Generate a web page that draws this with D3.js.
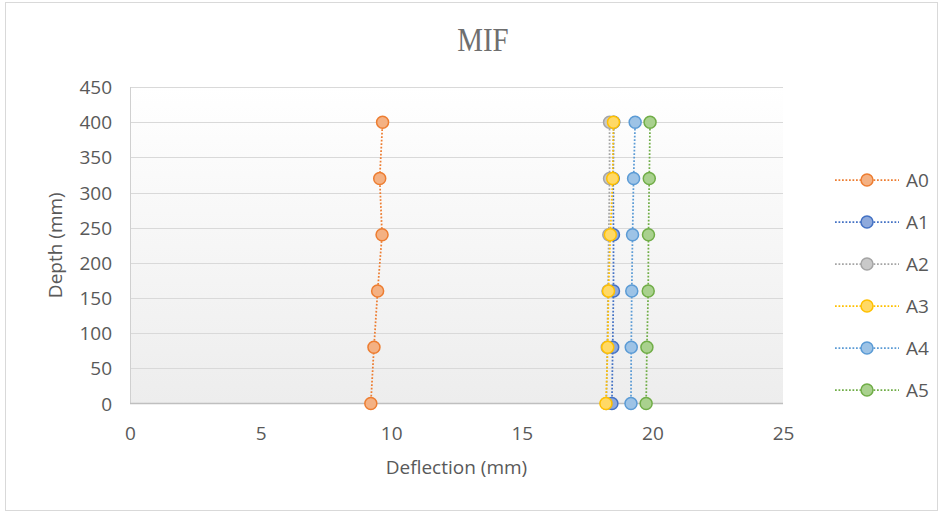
<!DOCTYPE html>
<html>
<head>
<meta charset="utf-8">
<script src="https://cdn.jsdelivr.net/npm/d3@7"></script>
<style>
  html, body { margin: 0; padding: 0; background: #fff; }
  svg { display: block; }
</style>
</head>
<body>
<svg id="chart" width="943" height="512"></svg>
<script>
// Depth readings (mm) and the deflection of each series at those depths
const depths = [0, 80, 160, 240, 320, 400];
const seriesNames = ["A0", "A1", "A2", "A3", "A4", "A5"];
const A0 = [9.22, 9.34, 9.48, 9.65, 9.56, 9.67];
const A1 = [18.45, 18.48, 18.51, 18.51, 18.50, 18.52];
const A2 = [18.24, 18.27, 18.30, 18.33, 18.36, 18.36];
const A3 = [18.22, 18.29, 18.32, 18.39, 18.48, 18.51];
const A4 = [19.18, 19.19, 19.21, 19.24, 19.28, 19.34];
const A5 = [19.76, 19.79, 19.84, 19.85, 19.88, 19.91];
const xTicks = [0, 5, 10, 15, 20, 25];
const yTicks = [0, 50, 100, 150, 200, 250, 300, 350, 400, 450];

const seriesValues = [A0, A1, A2, A3, A4, A5];
const strokeColors = ["#ED7D31", "#4472C4", "#A5A5A5", "#FFC000", "#5B9BD5", "#70AD47"];
const fillColors   = ["#F4B183", "#8FAADC", "#C9C9C9", "#FFD966", "#9DC3E6", "#A9D18E"];

const svg = d3.select("#chart");
const font = "'Open Sans', sans-serif";
const fontSize = 19;
const textColor = "#595959";

// Outer chart frame
svg.append("rect")
  .attr("x", 5.5).attr("y", 2.5)
  .attr("width", 932).attr("height", 508)
  .attr("fill", "#fff").attr("stroke", "#D9D9D9");

const plot = { left: 130, right: 783, top: 87, bottom: 403.5 };
const x = d3.scaleLinear().domain([0, 25]).range([plot.left, plot.right]);
const y = d3.scaleLinear().domain([0, 450]).range([plot.bottom, plot.top]);

// Plot background gradient (white at top, light gray at the bottom)
const defs = svg.append("defs");
const grad = defs.append("linearGradient")
  .attr("id", "plotBg").attr("x1", 0).attr("y1", 0).attr("x2", 0).attr("y2", 1);
grad.append("stop").attr("offset", "0%").attr("stop-color", "#FFFFFF");
grad.append("stop").attr("offset", "100%").attr("stop-color", "#EDEDED");

svg.append("rect")
  .attr("x", plot.left).attr("y", plot.top)
  .attr("width", plot.right - plot.left).attr("height", plot.bottom - plot.top)
  .attr("fill", "url(#plotBg)");

// Horizontal gridlines
svg.append("g")
  .selectAll("line")
  .data(yTicks.filter(d => d > 0))
  .join("line")
  .attr("x1", plot.left).attr("x2", plot.right)
  .attr("y1", d => Math.round(y(d)) + 0.5).attr("y2", d => Math.round(y(d)) + 0.5)
  .attr("stroke", "#D9D9D9").attr("stroke-width", 1);

// Left edge and bottom axis line
svg.append("line")
  .attr("x1", plot.left + 0.5).attr("x2", plot.left + 0.5)
  .attr("y1", plot.top).attr("y2", plot.bottom)
  .attr("stroke", "#D0D0D0");
svg.append("line")
  .attr("x1", plot.left).attr("x2", plot.right)
  .attr("y1", plot.bottom).attr("y2", plot.bottom)
  .attr("stroke", "#BFBFBF").attr("stroke-width", 1.5);

// Axes (labels only)
const xAxis = d3.axisBottom(x).tickValues(xTicks).tickSize(0).tickPadding(0);
const gx = svg.append("g").attr("transform", `translate(0, ${plot.bottom + 30})`).call(xAxis);
gx.select(".domain").remove();
gx.selectAll("text")
  .attr("dy", "0.35em")
  .attr("font-family", font).attr("font-size", fontSize).attr("fill", textColor);

const yAxis = d3.axisLeft(y).tickValues(yTicks).tickSize(0).tickPadding(0);
const gy = svg.append("g").attr("transform", `translate(${plot.left - 18}, 0)`).call(yAxis);
gy.select(".domain").remove();
gy.selectAll("text")
  .attr("dy", "0.35em")
  .attr("font-family", font).attr("font-size", fontSize).attr("fill", textColor);

// Title and axis titles
svg.append("text")
  .attr("x", 483).attr("y", 51)
  .attr("text-anchor", "middle")
  .attr("font-family", "'Liberation Serif', serif").attr("font-size", 34)
  .attr("fill", "#6E6E6E")
  .attr("transform", "translate(483,0) scale(0.85,1) translate(-483,0)")
  .text("MIF");

svg.append("text")
  .attr("x", (plot.left + plot.right) / 2).attr("y", 474)
  .attr("text-anchor", "middle")
  .attr("font-family", font).attr("font-size", fontSize).attr("fill", textColor)
  .text("Deflection (mm)");

svg.append("text")
  .attr("transform", `translate(62, ${(plot.top + plot.bottom) / 2}) rotate(-90)`)
  .attr("text-anchor", "middle")
  .attr("font-family", font).attr("font-size", fontSize).attr("fill", textColor)
  .text("Depth (mm)");

// Series: dotted connecting lines with circular markers
const line = d3.line().x(d => x(d.v)).y(d => y(d.depth));
const series = seriesNames.map((name, i) => ({
  name,
  stroke: strokeColors[i],
  fill: fillColors[i],
  points: depths.map((depth, j) => ({ depth, v: seriesValues[i][j] }))
}));

const gs = svg.append("g");
series.forEach(s => {
  const g = gs.append("g");
  g.append("path")
    .datum(s.points)
    .attr("d", line)
    .attr("fill", "none")
    .attr("stroke", s.stroke)
    .attr("stroke-width", 1.75)
    .attr("stroke-dasharray", "1.75,1.75");
  g.selectAll("circle")
    .data(s.points)
    .join("circle")
    .attr("cx", d => x(d.v)).attr("cy", d => y(d.depth))
    .attr("r", 6)
    .attr("fill", s.fill)
    .attr("stroke", s.stroke)
    .attr("stroke-width", 1.5);
});

// Legend
const legend = svg.append("g");
const legendY = d3.scalePoint().domain(seriesNames).range([180, 390]);
series.forEach(s => {
  const ly = legendY(s.name);
  const g = legend.append("g");
  g.append("line")
    .attr("x1", 835).attr("x2", 899).attr("y1", ly).attr("y2", ly)
    .attr("stroke", s.stroke).attr("stroke-width", 1.75)
    .attr("stroke-dasharray", "1.75,1.75");
  g.append("circle")
    .attr("cx", 867).attr("cy", ly).attr("r", 6)
    .attr("fill", s.fill).attr("stroke", s.stroke).attr("stroke-width", 1.5);
  g.append("text")
    .attr("x", 906).attr("y", ly).attr("dy", "0.35em")
    .attr("font-family", font).attr("font-size", fontSize).attr("fill", textColor)
    .text(s.name);
});
</script>
</body>
</html>
